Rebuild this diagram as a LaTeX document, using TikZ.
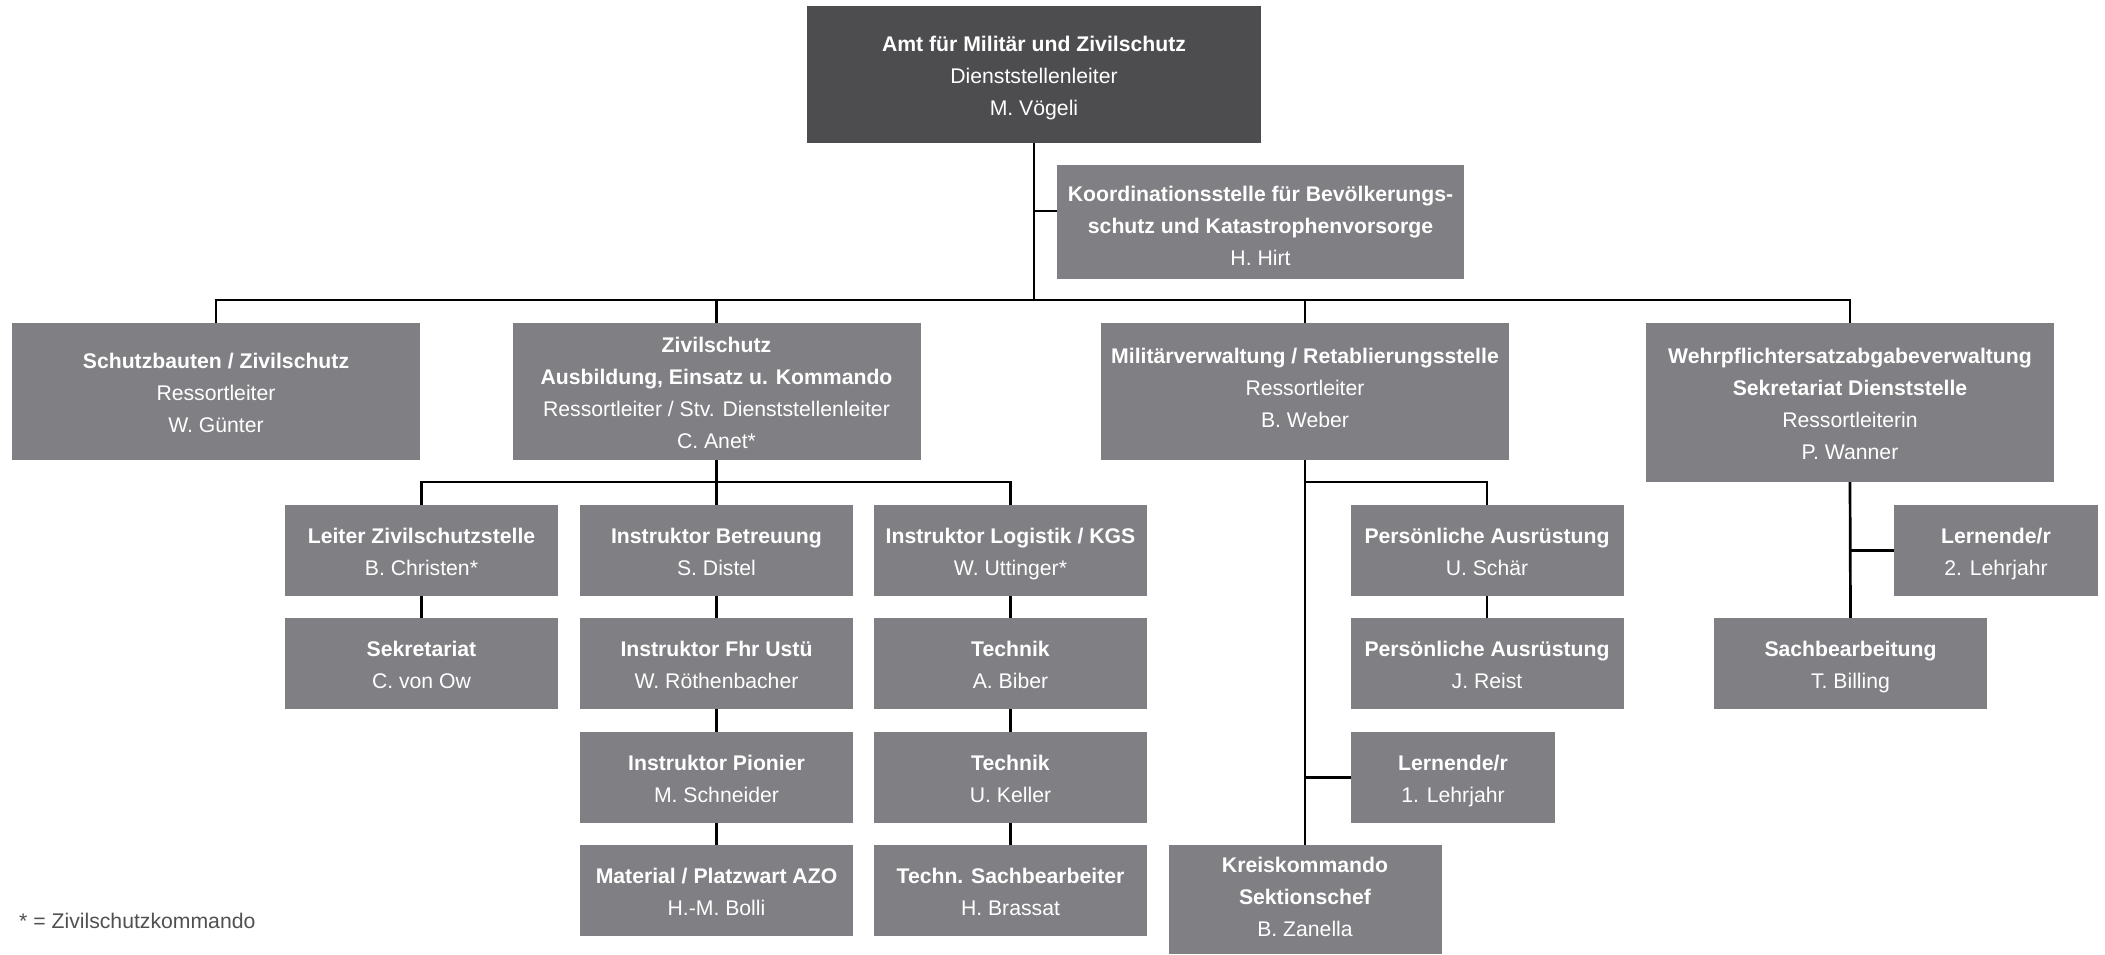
\documentclass[tikz,border=0pt]{standalone}
\usepackage{fontspec}
\setmainfont{Liberation Sans}
\definecolor{boxdark}{HTML}{4D4D4F}
\definecolor{boxgray}{HTML}{808084}
\definecolor{notegray}{HTML}{505050}
\newcommand{\OrgS}{\rule[-6.9pt]{0pt}{32pt}}
\newcommand{\OrgB}[1]{\OrgS\textbf{#1}}
\newcommand{\OrgR}[1]{\OrgS #1}
\begin{document}
\begin{tikzpicture}[x=1pt,y=-1pt,
  orgbox/.style={fill=boxgray,text=white,inner sep=0pt,align=center,
    font=\fontsize{21.2}{32}\selectfont,minimum width=273pt,minimum height=91pt},
  bigbox/.style={orgbox,minimum width=408pt,minimum height=137pt},
  smallbox/.style={orgbox,minimum width=204pt},
  link/.style={draw=black,line width=2.7pt}]
\useasboundingbox (0,0) rectangle (2105,955);
% level 0
\node[bigbox,fill=boxdark,minimum width=454pt] (top) at (1034,74.5)
  {\OrgB{Amt für Militär und Zivilschutz}\\\OrgR{Dienststellenleiter}\\\OrgR{M. Vögeli}};
\node[bigbox,minimum width=407pt,minimum height=114pt] (koord) at (1260.5,222)
  {\rule{0pt}{30.5pt}\OrgB{Koordinationsstelle für Bevölkerungs-}\\\OrgB{schutz und Katastrophenvorsorge}\\\OrgR{H. Hirt}};
% level 1
\node[bigbox] (schutz) at (216,391.5)
  {\OrgB{Schutzbauten / Zivilschutz}\\\OrgR{Ressortleiter}\\\OrgR{W. Günter}};
\node[bigbox] (ziv) at (716.5,391.5)
  {\OrgB{Zivilschutz}\\\OrgB{Ausbildung, Einsatz u. Kommando}\\\OrgR{Ressortleiter / Stv. Dienststellenleiter}\\\OrgR{C. Anet*}};
\node[bigbox] (mil) at (1305,391.5)
  {\OrgB{Militärverwaltung / Retablierungsstelle}\\\OrgR{Ressortleiter}\\\OrgR{B. Weber}\rule[-17.7pt]{0pt}{0pt}};
\node[bigbox,minimum height=159pt] (wehr) at (1850,402.5)
  {\OrgB{Wehrpflichtersatzabgabeverwaltung}\\\OrgB{Sekretariat Dienststelle}\\\OrgR{Ressortleiterin}\\\OrgR{P. Wanner}};
% Zivilschutz subtree
\node[orgbox] (leiter) at (421.5,550.5) {\OrgB{Leiter Zivilschutzstelle}\\\OrgR{B. Christen*}};
\node[orgbox] (sekr) at (421.5,663.5) {\OrgB{Sekretariat}\\\OrgR{C. von Ow}};
\node[orgbox] (betr) at (716.5,550.5) {\OrgB{Instruktor Betreuung}\\\OrgR{S. Distel}};
\node[orgbox] (fhr) at (716.5,663.5) {\OrgB{Instruktor Fhr Ustü}\\\OrgR{W. Röthenbacher}};
\node[orgbox] (pion) at (716.5,777.5) {\OrgB{Instruktor Pionier}\\\OrgR{M. Schneider}};
\node[orgbox] (mat) at (716.5,890.5) {\OrgB{Material / Platzwart AZO}\\\OrgR{H.-M. Bolli}};
\node[orgbox] (logi) at (1010.5,550.5) {\OrgB{Instruktor Logistik / KGS}\\\OrgR{W. Uttinger*}};
\node[orgbox] (tech1) at (1010.5,663.5) {\OrgB{Technik}\\\OrgR{A. Biber}};
\node[orgbox] (tech2) at (1010.5,777.5) {\OrgB{Technik}\\\OrgR{U. Keller}};
\node[orgbox] (brass) at (1010.5,890.5) {\OrgB{Techn. Sachbearbeiter}\\\OrgR{H. Brassat}};
% Militär subtree
\node[orgbox] (pers1) at (1487,550.5) {\OrgB{Persönliche Ausrüstung}\\\OrgR{U. Schär}};
\node[orgbox] (pers2) at (1487,663.5) {\OrgB{Persönliche Ausrüstung}\\\OrgR{J. Reist}};
\node[smallbox] (lern1) at (1453,777.5) {\OrgB{Lernende/r}\\\OrgR{1. Lehrjahr}};
\node[orgbox,minimum height=109pt] (kreis) at (1305,899.5)
  {\OrgB{Kreiskommando}\\\OrgB{Sektionschef}\\\OrgR{B. Zanella}\rule[-14.9pt]{0pt}{0pt}};
% Wehrpflicht subtree
\node[smallbox] (lern2) at (1996,550.5) {\OrgB{Lernende/r}\\\OrgR{2. Lehrjahr}};
\node[orgbox] (sach) at (1850.5,663.5) {\OrgB{Sachbearbeitung}\\\OrgR{T. Billing}};
% footnote
\node[anchor=base west,inner sep=0pt,text=notegray,font=\fontsize{21.2}{32}\selectfont]
  (note) at (19,928) {* = Zivilschutzkommando};
% connectors
\coordinate (busL) at (216,300);
\coordinate (busR) at (1850,300);
\draw[link] (top.south) -- (top.south |- busL);
\draw[link] ([yshift=11pt]koord.west) -- ([yshift=11pt]koord.west -| top.south);
\draw[link] (schutz.north) -- (busL) -- (busR) -- (wehr.north);
\draw[link] (ziv.north) -- (ziv.north |- busL);
\draw[link] (mil.north) -- (mil.north |- busL);
% Zivilschutz
\coordinate (zbus) at (716.5,482);
\draw[link] (leiter.north) -- (leiter.north |- zbus) -- (logi.north |- zbus) -- (logi.north);
\draw[link] (ziv.south) -- (betr.north);
\draw[link] (leiter) -- (sekr);
\draw[link] (betr) -- (fhr);
\draw[link] (fhr) -- (pion);
\draw[link] (pion) -- (mat);
\draw[link] (logi) -- (tech1);
\draw[link] (tech1) -- (tech2);
\draw[link] (tech2) -- (brass);
% Militär
\coordinate (mbus) at (1305,482);
\draw[link] (mil.south) -- (kreis.north);
\draw[link] (mbus) -| (pers1.north);
\draw[link] (pers1) -- (pers2);
\draw[link] (lern1.west) -- (lern1.west -| mil.south);
% Wehrpflicht
\draw[link] (wehr.south) -- (sach.north);
\draw[link] (lern2.west) -- (lern2.west -| wehr.south);
\end{tikzpicture}
\end{document}
